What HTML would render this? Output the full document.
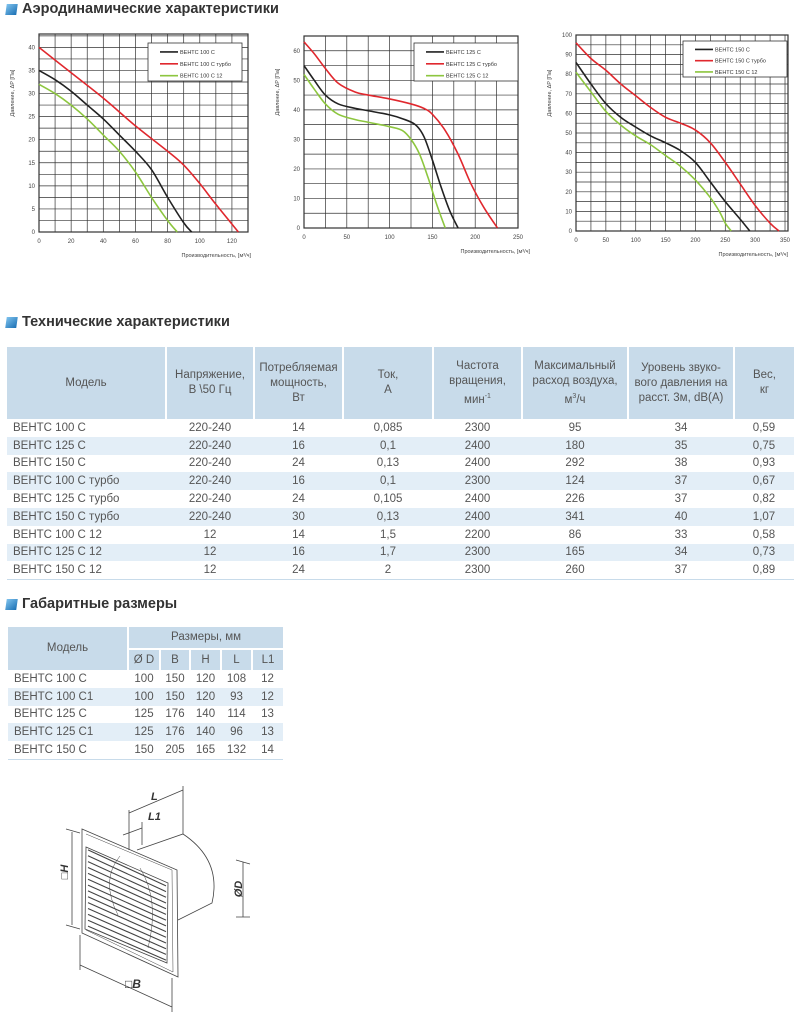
<!DOCTYPE html>
<html><head><meta charset="utf-8">
<style>
body{margin:0;width:799px;height:1024px;background:#fff;font-family:"Liberation Sans",sans-serif;color:#555;position:relative;overflow:hidden}
.h{position:absolute;left:22px;font-size:14.5px;font-weight:bold;color:#333;white-space:nowrap}
.ic{position:absolute;left:6px;width:11px;height:11px;background:linear-gradient(135deg,#7fc3ee,#1a6fb3);transform:skewX(-8deg)}
table{position:absolute;border-collapse:collapse;font-size:11.5px;color:#555;table-layout:fixed}
td{padding:0;height:17.8px;text-align:center;white-space:nowrap;overflow:hidden}
td.m{text-align:left;padding-left:6px}
tr.a td{background:#e3eef7}
th{background:#c8dbea;font-weight:normal;font-size:11.5px;line-height:15px;border-right:2px solid #fff;color:#555;padding:0;overflow:hidden;white-space:nowrap}
th:last-child{border-right:none}
table tr:last-child td{border-bottom:1px solid #c8dbea}
svg text{font-family:"Liberation Sans",sans-serif}
</style></head><body>
<div class="ic" style="top:4px"></div>
<div class="h" style="top:1px">Аэродинамические характеристики</div>
<svg id="charts" width="799" height="270" style="position:absolute;left:0;top:0"></svg>

<div class="ic" style="top:317px"></div>
<div class="h" style="top:314px">Технические характеристики</div>
<table style="left:7px;top:347px;width:787px">
<colgroup><col style="width:159px"><col style="width:88px"><col style="width:89px"><col style="width:90px"><col style="width:89px"><col style="width:106px"><col style="width:106px"><col style="width:60px"></colgroup>
<tr style="height:72px"><th>Модель</th><th>Напряжение,<br>В \50 Гц</th><th>Потребляемая<br>мощность,<br>Вт</th><th>Ток,<br>А</th><th>Частота<br>вращения,<br>мин<sup style="font-size:7px">-1</sup></th><th>Максимальный<br>расход воздуха,<br>м<sup style="font-size:7px">3</sup>/ч</th><th>Уровень звуко-<br>вого давления на<br>расст. 3м, dB(A)</th><th>Вес,<br>кг</th></tr>
<tr><td class="m">ВЕНТС 100 С</td><td>220-240</td><td>14</td><td>0,085</td><td>2300</td><td>95</td><td>34</td><td>0,59</td></tr>
<tr class="a"><td class="m">ВЕНТС 125 С</td><td>220-240</td><td>16</td><td>0,1</td><td>2400</td><td>180</td><td>35</td><td>0,75</td></tr>
<tr><td class="m">ВЕНТС 150 С</td><td>220-240</td><td>24</td><td>0,13</td><td>2400</td><td>292</td><td>38</td><td>0,93</td></tr>
<tr class="a"><td class="m">ВЕНТС 100 С турбо</td><td>220-240</td><td>16</td><td>0,1</td><td>2300</td><td>124</td><td>37</td><td>0,67</td></tr>
<tr><td class="m">ВЕНТС 125 С турбо</td><td>220-240</td><td>24</td><td>0,105</td><td>2400</td><td>226</td><td>37</td><td>0,82</td></tr>
<tr class="a"><td class="m">ВЕНТС 150 С турбо</td><td>220-240</td><td>30</td><td>0,13</td><td>2400</td><td>341</td><td>40</td><td>1,07</td></tr>
<tr><td class="m">ВЕНТС 100 С 12</td><td>12</td><td>14</td><td>1,5</td><td>2200</td><td>86</td><td>33</td><td>0,58</td></tr>
<tr class="a"><td class="m">ВЕНТС 125 С 12</td><td>12</td><td>16</td><td>1,7</td><td>2300</td><td>165</td><td>34</td><td>0,73</td></tr>
<tr><td class="m">ВЕНТС 150 С 12</td><td>12</td><td>24</td><td>2</td><td>2300</td><td>260</td><td>37</td><td>0,89</td></tr>
</table>

<div class="ic" style="top:599px"></div>
<div class="h" style="top:596px">Габаритные размеры</div>
<table style="left:8px;top:627px;width:275px">
<colgroup><col style="width:120px"><col style="width:32px"><col style="width:30px"><col style="width:31px"><col style="width:31px"><col style="width:31px"></colgroup>
<tr style="height:22px"><th rowspan="2" style="border-bottom:none">Модель</th><th colspan="5" style="border-bottom:2px solid #fff">Размеры, мм</th></tr>
<tr style="height:21px"><th>Ø D</th><th>B</th><th>H</th><th>L</th><th>L1</th></tr>
<tr><td class="m">ВЕНТС 100 С</td><td>100</td><td>150</td><td>120</td><td>108</td><td>12</td></tr>
<tr class="a"><td class="m">ВЕНТС 100 С1</td><td>100</td><td>150</td><td>120</td><td>93</td><td>12</td></tr>
<tr><td class="m">ВЕНТС 125 С</td><td>125</td><td>176</td><td>140</td><td>114</td><td>13</td></tr>
<tr class="a"><td class="m">ВЕНТС 125 С1</td><td>125</td><td>176</td><td>140</td><td>96</td><td>13</td></tr>
<tr><td class="m">ВЕНТС 150 С</td><td>150</td><td>205</td><td>165</td><td>132</td><td>14</td></tr>
</table>

<svg width="260" height="240" style="position:absolute;left:0;top:780px" viewBox="0 780 260 240" fill="none" stroke="#444" stroke-width="0.8">
<path d="M137 850 L183 834 Q222 860 212 903 L178 920" fill="#fff"/>
<path d="M82 829 L177 870 L178 977 L82 933 Z" fill="#fff"/>
<path d="M86 834 L172 870 L173 972 L86 930" stroke-width="0.5"/>
<path d="M86 847 L168 883 L167 963 L85 929 Z"/>
<g id="slats" stroke-width="1.1"></g>
<path d="M118 915 Q100 880 120 856 M140 868 Q160 900 148 948" stroke-width="0.5"/>
<path d="M72 832 L72 925 M66 829 L80 833 M66 925 L80 929 M243 862 L243 917 M236 860 L250 864 M236 917 L250 917 M80 965 L172 1007 M80 935 L80 970 M172 978 L172 1012 M129 813 L183 790 M129 810 L129 850 M183 786 L183 834 M123 835 L142 828 M142 822 L142 845"/>
<text x="62" y="872" transform="rotate(-90 62 872)" fill="#333" stroke="none" font-size="11" font-style="italic" font-weight="bold" text-anchor="middle" dy="6">□H</text>
<text x="238" y="889" transform="rotate(-90 238 889)" fill="#333" stroke="none" font-size="11" font-style="italic" font-weight="bold" text-anchor="middle" dy="4">ØD</text>
<text x="125" y="988" fill="#333" stroke="none" font-size="12" font-style="italic" font-weight="bold">□B</text>
<text x="151" y="800" fill="#333" stroke="none" font-size="11" font-style="italic" font-weight="bold">L</text>
<text x="148" y="820" fill="#333" stroke="none" font-size="11" font-style="italic" font-weight="bold">L1</text>
</svg>

<script>
const NS="http://www.w3.org/2000/svg";
const c1Black=[[0,35],[10,33],[20,30.5],[30,27.5],[40,24.5],[50,21],[60,17.5],[70,13.5],[80,7.5],[90,2],[95,0]];
const c1Red=[[0,40],[20,34.5],[40,29],[60,23],[80,17.5],[90,14.5],[100,10.5],[110,6],[124,0]];
const c1Green=[[0,32],[10,30],[20,27.5],[30,24.5],[40,21],[50,17.5],[60,13],[70,7.5],[80,2.5],[86,0]];
const c2Black=[[0,55],[12,50],[25,45],[40,42],[60,40.5],[75,39.7],[100,38.3],[115,37],[130,35],[140,31],[150,23],[160,14],[170,6],[180,0]];
const c2Red=[[0,63],[12,59],[25,54],[40,49],[60,46],[75,45],[100,43.7],[125,42],[140,40.5],[150,38.5],[165,33],[180,25],[195,15],[210,7],[226,0]];
const c2Green=[[0,52],[12,47],[25,42],[40,38.5],[60,36.7],[75,35.8],[100,34.3],[115,33],[125,30],[135,25],[145,17],[155,8],[165,0]];
const c3Black=[[0,86],[25,75],[50,65],[75,58],[100,53],[125,48.5],[150,45],[175,41],[200,35],[225,25],[250,15],[275,6],[291,0]];
const c3Red=[[0,96],[25,88],[50,82],[75,75],[100,69],[125,63],[150,58],[175,55],[200,51.5],[225,45],[250,35],[275,24],[300,13],[325,4],[340,0]];
const c3Green=[[0,81],[25,71],[50,61],[75,54],[100,48.5],[125,44],[150,38.5],[175,33],[200,26],[225,17],[240,10],[250,4],[260,0]];
const xTicks1=[0,20,40,60,80,100,120], yTicks1=[0,5,10,15,20,25,30,35,40];
const xTicks2=[0,50,100,150,200,250], yTicks2=[0,10,20,30,40,50,60];
const xTicks3=[0,50,100,150,200,250,300,350], yTicks3=[0,10,20,30,40,50,60,70,80,90,100];
const legend1=["ВЕНТС 100 С","ВЕНТС 100 С турбо","ВЕНТС 100 С 12"];
const legend2=["ВЕНТС 125 С","ВЕНТС 125 С турбо","ВЕНТС 125 С 12"];
const legend3=["ВЕНТС 150 С","ВЕНТС 150 С турбо","ВЕНТС 150 С 12"];
const colors=["#222","#e0282e","#8dc63f"];
const svg=document.getElementById('charts');
function mk(t,a,p){const e=document.createElementNS(NS,t);for(const k in a)e.setAttribute(k,a[k]);(p||svg).appendChild(e);return e;}
function smooth(pts){let d="M"+pts[0][0]+" "+pts[0][1];for(let i=0;i<pts.length-1;i++){const p0=pts[i-1]||pts[i],p1=pts[i],p2=pts[i+1],p3=pts[i+2]||p2;
d+=" C"+(p1[0]+(p2[0]-p0[0])/6)+" "+(p1[1]+(p2[1]-p0[1])/6)+" "+(p2[0]-(p3[0]-p1[0])/6)+" "+(p2[1]-(p3[1]-p1[1])/6)+" "+p2[0]+" "+p2[1];}return d;}
function chart(o){
 const sx=v=>o.x0+(v-0)/(o.xmax)*(o.x1-o.x0), sy=v=>o.y0-(v/o.ymax)*(o.y0-o.y1);
 const g=mk('g',{});
 
 
 for(let v=0;v<=o.xmax+1e-9;v+=o.xg){const l=mk('line',{x1:sx(v),x2:sx(v),y1:o.y1,y2:o.y0,stroke:"#333","stroke-width":0.7},g);}
 for(let v=0;v<=o.ymax+1e-9;v+=o.yg){const l=mk('line',{x1:o.x0,x2:o.x1,y1:sy(v),y2:sy(v),stroke:"#333","stroke-width":0.7},g);}
 mk('rect',{x:o.x0,y:o.y1,width:o.x1-o.x0,height:o.y0-o.y1,fill:"none",stroke:"#333","stroke-width":1.2},g);
 o.xt.forEach(v=>{const t=mk('text',{x:sx(v),y:o.y0+11,"font-size":6,"text-anchor":"middle",fill:"#444"},g);t.textContent=v;});
 o.yt.forEach(v=>{const t=mk('text',{x:o.x0-4,y:sy(v)+2,"font-size":6,"text-anchor":"end",fill:"#444"},g);t.textContent=v;});
 const ya=mk('text',{x:o.x0-25,y:(o.y0+o.y1)/2-40,"font-size":5.5,"text-anchor":"middle",fill:"#444",transform:"rotate(-90 "+(o.x0-25)+" "+((o.y0+o.y1)/2-40)+")"},g);ya.textContent="Давление, ΔP [Па]";
 const xa=mk('text',{x:o.x1+(o.xoff||0),y:o.y0+25,"font-size":5.5,"text-anchor":"end",fill:"#444"},g);xa.textContent="Производительность, [м³/ч]";
 o.series.forEach((s,i)=>{const p=mk('path',{d:smooth(s.map(q=>[sx(q[0]),sy(q[1])])),fill:"none",stroke:colors[i],"stroke-width":1.6},g);});
 const L=o.leg;const r=mk('rect',{x:L[0],y:L[1],width:L[2],height:L[3],fill:"#fff",stroke:"#333","stroke-width":0.8},g);
 o.labels.forEach((s,i)=>{const y=L[1]+L[3]*(i+0.75)/3.2;const l=mk('line',{x1:L[0]+12,x2:L[0]+30,y1:y,y2:y,stroke:colors[i],"stroke-width":1.6},g);
  const t=mk('text',{x:L[0]+32,y:y+2,"font-size":5.5,fill:"#333"},g);t.textContent=s;});
}
chart({name:'chart-100',x0:39,x1:248,y0:232,y1:34,xmax:130,ymax:42.9,xg:10,yg:2.5,xt:xTicks1,yt:yTicks1,series:[c1Black,c1Red,c1Green],labels:legend1,leg:[148,43,94,38],xoff:3});
chart({name:'chart-125',x0:304,x1:518,y0:228,y1:36,xmax:250,ymax:65,xg:25,yg:5,xt:xTicks2,yt:yTicks2,series:[c2Black,c2Red,c2Green],labels:legend2,leg:[414,43,104,38],xoff:12});
chart({name:'chart-150',x0:576,x1:788,y0:231,y1:35,xmax:355,ymax:100,xg:25,yg:5,xt:xTicks3,yt:yTicks3,series:[c3Black,c3Red,c3Green],labels:legend3,leg:[683,41,104,36],xoff:0});
const sl=document.getElementById('slats');
for(let i=0;i<14;i++){const f=(i+0.5)/14;const y1=847+f*(929-847),y2=883+f*(963-883);
 const l=document.createElementNS(NS,'line');l.setAttribute('x1',88);l.setAttribute('y1',y1);l.setAttribute('x2',166);l.setAttribute('y2',y2);
 
 
 sl.appendChild(l);}
</script>
</body></html>
